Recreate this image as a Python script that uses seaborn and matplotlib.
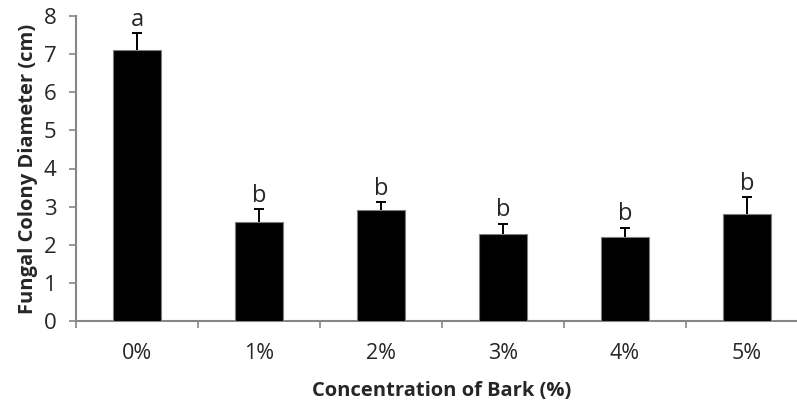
import numpy as np
import pandas as pd
import seaborn as sns
import matplotlib.pyplot as plt

# values
concentrations = ['0%', '1%', '2%', '3%', '4%', '5%']
diameter = [7.1, 2.6, 2.9, 2.28, 2.2, 2.8]
err_upper = [0.45, 0.34, 0.21, 0.27, 0.25, 0.44]
letters = ['a', 'b', 'b', 'b', 'b', 'b']

df = pd.DataFrame({'conc': concentrations, 'diam': diameter})
df['top'] = df['diam'] + np.array(err_upper)

sns.set_theme(style='white')
plt.rcParams['font.family'] = ['Open Sans', 'DejaVu Sans']

fig = plt.figure(figsize=(7.97, 4.03), dpi=100)
# axis extends a little past the right edge, like the reference
ax = fig.add_axes([76 / 797, 82 / 403, 732 / 797, 305 / 403])

sns.barplot(data=df, x='conc', y='diam', color='black', width=0.4,
            edgecolor='#7f7f7f', linewidth=0.8, errorbar=None, ax=ax, zorder=3)
for p in ax.patches:
    p.set_facecolor('black')

# upper error bars only: stem plus a cap at the top
x = np.arange(len(concentrations))
ax.vlines(x, df['diam'], df['top'], color='black', linewidth=1.4, zorder=2)
ax.plot(x, df['top'], linestyle='none', marker='_', markersize=7,
        markeredgewidth=1.4, color='black', zorder=2)

for xi, t, lab in zip(x, df['top'], letters):
    ax.annotate(lab, (xi, t), xytext=(0, 1), textcoords='offset points',
                ha='center', va='bottom', fontsize=17, color='#262626')

ax.set_xlim(-0.5, len(concentrations) - 0.5)
ax.set_ylim(0, 8)
ax.set_yticks(range(0, 9))

# tick marks between categories, labels at the centres
ax.set_xticks(x)
ax.set_xticks(np.arange(-0.5, len(concentrations) - 0.5, 1.0), minor=True)
ax.tick_params(axis='x', which='major', length=0, pad=16, labelsize=15.5, labelcolor='#262626')
ax.tick_params(axis='x', which='minor', length=5, width=1.2, color='#868686', direction='out', bottom=True)
ax.tick_params(axis='y', length=5, width=1.2, color='#868686', direction='out', left=True,
               labelsize=16, labelcolor='#262626', pad=9)

sns.despine(ax=ax)
for s in ['left', 'bottom']:
    ax.spines[s].set_color('#868686')
    ax.spines[s].set_linewidth(1.5)

ax.set_xlabel('Concentration of Bark (%)', fontsize=14.5, fontweight='bold', color='#262626', labelpad=12)
ax.set_ylabel('Fungal Colony Diameter (cm)', fontsize=14.5, fontweight='bold', color='#262626', labelpad=4)

fig.savefig('out.png', dpi=100)
